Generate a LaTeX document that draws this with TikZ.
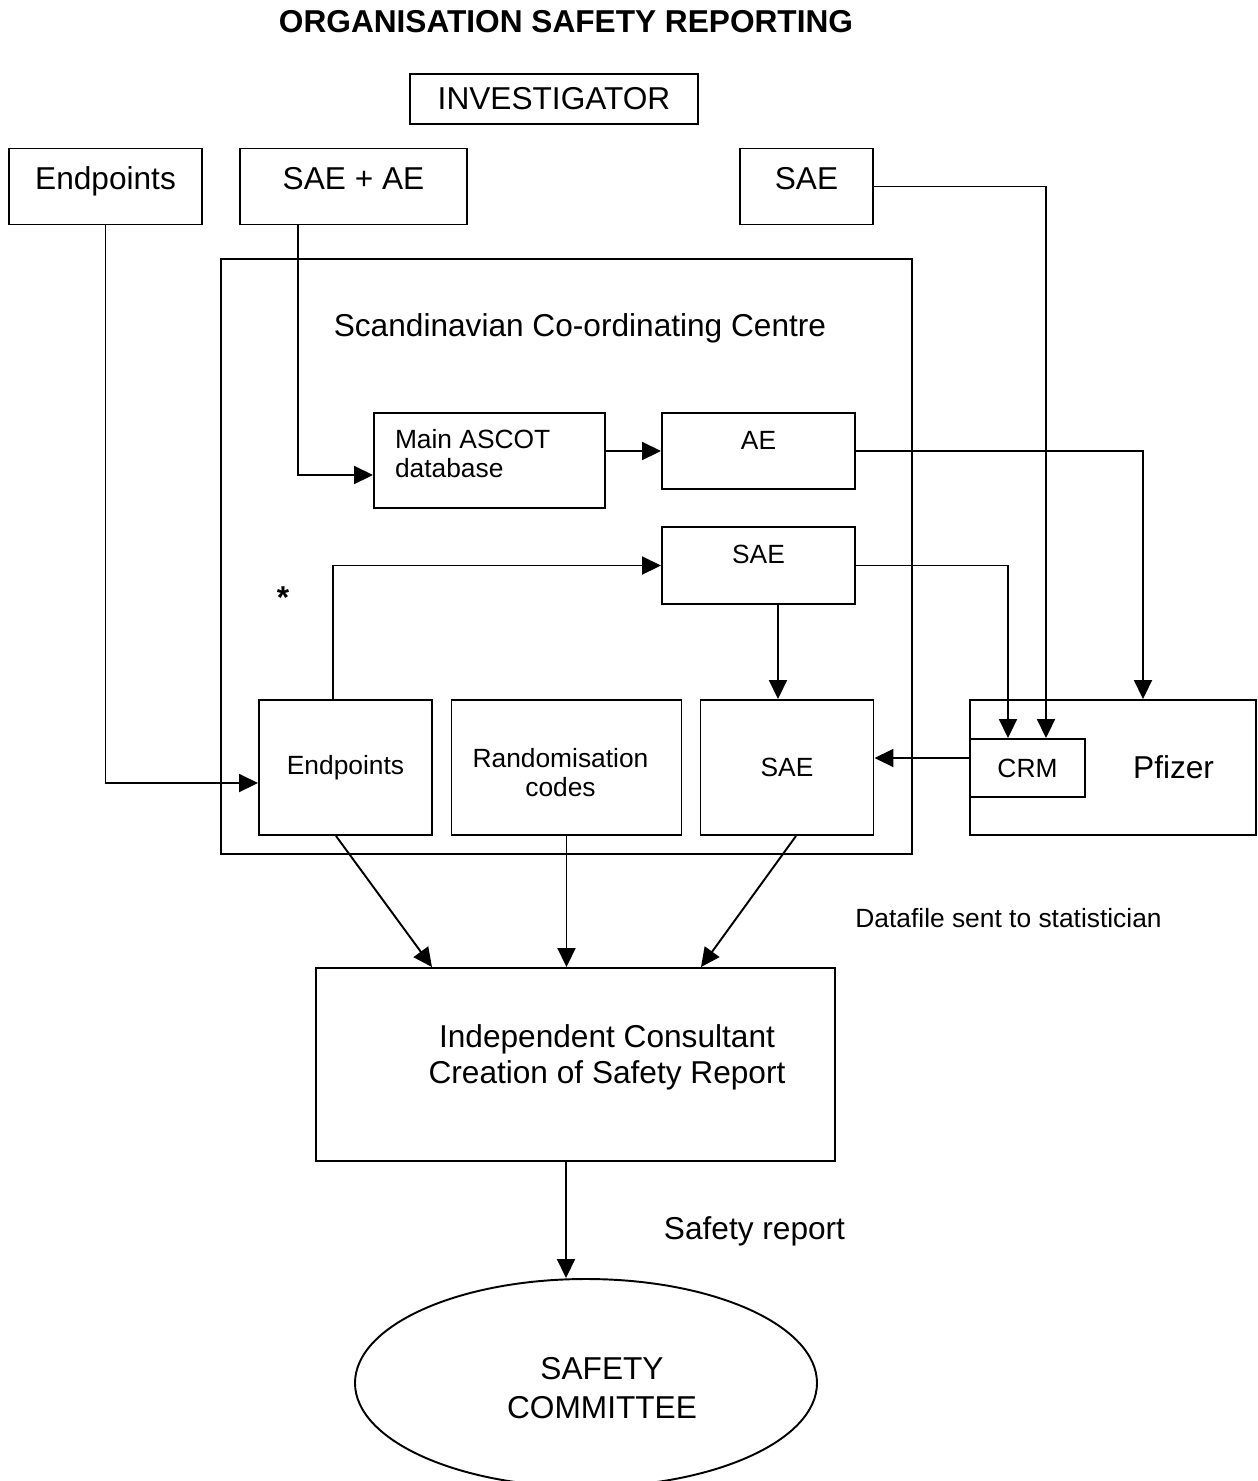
\documentclass[tikz,border=0pt]{standalone}
\usepackage{fontspec}
\setmainfont{Liberation Sans}
\usetikzlibrary{arrows.meta,shapes.geometric}

\begin{document}
\begin{tikzpicture}[x=0.2mm,y=-0.2mm,line width=1.1pt,
		box/.style={draw,rectangle,inner sep=0pt,font=\fontsize{18}{20.5}\selectfont},
		smallbox/.style={box,font=\fontsize{15}{16.5}\selectfont},
		smalltext/.style={font=\fontsize{15}{16.5}\selectfont},
		toprow/.style={box,minimum height=15.2mm,text height=4.6mm,text depth=3.6mm},
		midrow/.style={smallbox,minimum width=38.6mm,text height=3.8mm,text depth=4.5mm},
		lowrow/.style={smallbox,minimum height=27mm},
		arr/.style={-{Triangle[length=3.8mm,width=3.6mm]}}]
			\useasboundingbox (0,0) rectangle (1257,1481);
			\node[font=\bfseries\fontsize{18}{20}\selectfont] (title) at (566,22) {ORGANISATION SAFETY REPORTING};
			\node[box,minimum width=57.6mm,minimum height=10mm] (inv) at (554,99) {INVESTIGATOR};
			% reporting sources
			\node[toprow,minimum width=38.6mm] (ep) at (105.5,186.5) {Endpoints};
			\node[toprow,minimum width=45.4mm] (saeae) at (353.5,186.5) {SAE + AE};
			\node[toprow,minimum width=26.6mm] (saetop) at (806.5,186.5) {SAE};
			% co-ordinating centre
			\node[draw,rectangle,minimum width=138.2mm,minimum height=119mm] (scc) at (566.5,556.5) {};
			\node[font=\fontsize{18}{20}\selectfont] (scclabel) at (580,328) {Scandinavian Co-ordinating Centre};
			\node[smallbox,minimum width=46.2mm,minimum height=19mm] (ascot) at (489.5,460.5) {};
			\node[smalltext,anchor=west,inner sep=0pt,align=left] (ascotlabel) at ([shift={(21,-6.5)}]ascot.west) {Main ASCOT\\database};
			\node[midrow,minimum height=15.2mm] (ae) at (758.5,451) {AE};
			\node[midrow,minimum height=15.4mm] (saemid) at (758.5,565.5) {SAE};
			\node[font=\bfseries\fontsize{18}{20}\selectfont] (star) at (283,598) {*};
			\node[lowrow,minimum width=34.6mm] (epin) at (345.5,767.5) {Endpoints};
			\node[lowrow,minimum width=46mm] (rand) at (566.5,767.5) {};
			\node[smalltext,align=center] (randlabel) at ([shift={(-6,5)}]rand) {Randomisation\\codes};
			\node[lowrow,minimum width=34.6mm] (saein) at (787,767.5) {SAE};
			% sponsor
			\node[box,minimum width=57.2mm,minimum height=27mm,inner xsep=8.4mm,text width=40.4mm,align=right] (pfizer) at (1113,767.5) {Pfizer};
			\node[smallbox,minimum width=23mm,minimum height=11.6mm] (crm) at (1027.5,768) {CRM};
			\node[smalltext] (dfs) at (1008.5,918) {Datafile sent to statistician};
			% consultant and committee
			\node[draw,rectangle,minimum width=103.8mm,minimum height=38.6mm] (ic) at (575.5,1064.5) {};
			\node[font=\fontsize{18}{20.5}\selectfont,align=center] (iclabel) at (607,1057) {Independent Consultant\\Creation of Safety Report};
			\node[font=\fontsize{18}{20}\selectfont] (sr) at (754.5,1231) {Safety report};
			\node[draw,ellipse,inner sep=0pt,minimum width=92.4mm,minimum height=41.6mm] (sc) at (586,1383) {};
			\node[font=\fontsize{18}{22}\selectfont,align=center] (sclabel) at (602,1388) {SAFETY\\COMMITTEE};

			\draw[arr] (ep.south) |- ([shift={(0,15.5)}]epin.west);
			\draw[arr] ([shift={(-55.5,0)}]saeae.south) |- ([shift={(0,14.5)}]ascot.west);
			\draw[arr] (ascot.east |- ae.west) -- (ae.west);
			\draw[arr] (ae.east) -| ([shift={(30,0)}]pfizer.north);
			\draw[arr] (saetop.east) -| ([shift={(18.5,0)}]crm.north);
			\draw[arr] (saemid.east) -| ([shift={(-19.5,0)}]crm.north);
			\draw[arr] ([shift={(19.5,0)}]saemid.south) -- ([shift={(-9,0)}]saein.north);
			\draw[arr] ([shift={(-12.5,0)}]epin.north) |- (saemid.west);
			\draw[arr] ([shift={(0,-10)}]crm.west) -- ([shift={(0,-9.5)}]saein.east);
			\draw[arr] ([shift={(-9.5,0)}]epin.south) -- ([shift={(-143.5,0)}]ic.north);
			\draw[arr] (rand.south) -- (rand.south |- ic.north);
			\draw[arr] ([shift={(9,0)}]saein.south) -- ([shift={(125.5,0)}]ic.north);
			\draw[arr] ([shift={(-9.5,0)}]ic.south) -- ([shift={(-20,0)}]sc.north);
		\end{tikzpicture}
\end{document}
